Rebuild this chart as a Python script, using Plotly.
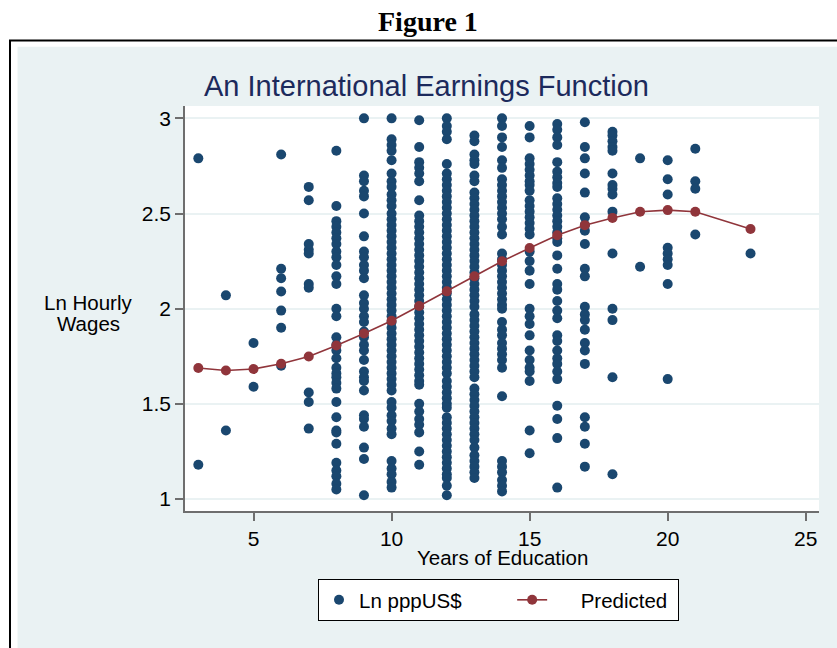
import plotly.graph_objects as go

# ---------------- data ----------------
ed3 = [2.79, 1.18]
ed4 = [2.07, 1.36]
ed5 = [1.82, 1.59]
ed6 = [2.81, 2.21, 2.16, 2.09, 1.99, 1.90, 1.70]
ed7 = [2.64, 2.57, 2.34, 2.31, 2.29, 2.13, 2.11, 1.56, 1.51, 1.37]
ed8 = [2.83, 2.54, 2.46, 2.43, 2.40, 2.37, 2.34, 2.30, 2.27, 2.23, 2.17, 2.13, 2.00, 1.96,
       1.85, 1.81, 1.78, 1.74, 1.69, 1.66, 1.64, 1.61, 1.58, 1.51, 1.43, 1.36, 1.35, 1.29,
       1.19, 1.15, 1.12, 1.08, 1.05]
ed9 = [3.00, 2.70, 2.67, 2.62, 2.59, 2.50, 2.38, 2.30, 2.27, 2.23, 2.20, 2.16, 2.07, 2.03,
       2.00, 1.96, 1.93, 1.88, 1.85, 1.81, 1.78, 1.73, 1.67, 1.64, 1.62, 1.57, 1.44, 1.42,
       1.38, 1.27, 1.21, 1.02]
ed10 = [3.00, 2.89, 2.86, 2.83, 2.78, 2.71, 2.67, 2.64, 2.60, 2.57, 2.54,
        2.50, 2.47, 2.44, 2.41, 2.38, 2.35, 2.32, 2.29, 2.26, 2.23, 2.20, 2.17, 2.14, 2.11,
        2.08, 2.05, 2.02, 1.99, 1.96, 1.93, 1.90, 1.87, 1.84, 1.81, 1.78, 1.75, 1.72, 1.69,
        1.66, 1.63, 1.60, 1.57, 1.51, 1.48, 1.44, 1.41, 1.37, 1.34, 1.20, 1.16, 1.13, 1.09, 1.06]
ed11 = [2.99, 2.85, 2.77, 2.74, 2.71, 2.67, 2.57,
        2.49, 2.46, 2.43, 2.40, 2.37, 2.34, 2.31, 2.28, 2.25, 2.22, 2.19, 2.16, 2.13, 2.10,
        2.07, 2.04, 2.01, 1.98, 1.95, 1.92, 1.89, 1.86, 1.83, 1.80, 1.77, 1.74, 1.71, 1.68,
        1.65, 1.62, 1.60, 1.50, 1.46, 1.42, 1.39, 1.35, 1.25, 1.18]
ed12 = [3.00, 2.96, 2.93, 2.89, 2.76,
        2.71, 2.68, 2.65, 2.62, 2.59, 2.56, 2.53, 2.50, 2.47, 2.44, 2.41, 2.38, 2.35, 2.32,
        2.29, 2.26, 2.23, 2.20, 2.17, 2.14, 2.11, 2.08, 2.05, 2.02, 1.99, 1.96, 1.93, 1.90,
        1.87, 1.84, 1.81, 1.78, 1.75, 1.72, 1.69, 1.66, 1.62, 1.59, 1.56, 1.53, 1.50, 1.48,
        1.43, 1.40, 1.37, 1.34, 1.31, 1.28, 1.25, 1.22, 1.19, 1.16, 1.13, 1.11, 1.07, 1.02]
ed13 = [2.91, 2.88, 2.81, 2.78, 2.76, 2.70, 2.67,
        2.61, 2.58, 2.55, 2.52, 2.49, 2.46, 2.43, 2.40, 2.37, 2.34, 2.31, 2.28, 2.25, 2.22,
        2.19, 2.16, 2.13, 2.10, 2.07, 2.04, 2.01, 1.97, 1.94, 1.91, 1.88, 1.85, 1.82, 1.79,
        1.76, 1.73, 1.70, 1.67, 1.64, 1.58, 1.55, 1.52, 1.49, 1.46, 1.43, 1.40, 1.37, 1.34,
        1.31, 1.27, 1.23, 1.20, 1.17, 1.14, 1.11]
ed14 = [3.00, 2.96, 2.90, 2.85, 2.78, 2.74, 2.68, 2.65, 2.62, 2.59, 2.56, 2.53, 2.50, 2.47,
        2.43, 2.39, 2.29, 2.26, 2.23, 2.20, 2.17, 2.14, 2.11, 2.08, 2.05, 2.02, 2.00, 1.93,
        1.89, 1.86, 1.82, 1.79, 1.76, 1.73, 1.69, 1.54, 1.20, 1.17, 1.14, 1.10, 1.07, 1.04]
ed15 = [2.96, 2.90, 2.79, 2.76, 2.73, 2.70, 2.67, 2.65, 2.62, 2.57, 2.54, 2.51, 2.48, 2.45,
        2.42, 2.39, 2.30, 2.25, 2.20, 2.13, 2.00, 1.96, 1.92, 1.86, 1.78, 1.73, 1.69, 1.67,
        1.62, 1.36, 1.24]
ed16 = [2.97, 2.94, 2.90, 2.86, 2.77, 2.72, 2.69, 2.66, 2.64, 2.58, 2.55, 2.52, 2.49, 2.46,
        2.43, 2.40, 2.37, 2.35, 2.28, 2.21, 2.13, 2.10, 2.04, 1.99, 1.95, 1.86, 1.83, 1.78,
        1.74, 1.71, 1.67, 1.63, 1.49, 1.42, 1.32, 1.06]
ed17 = [2.98, 2.85, 2.79, 2.71, 2.61, 2.48, 2.44, 2.41, 2.34, 2.21, 2.17, 2.01, 1.97, 1.94,
        1.89, 1.82, 1.78, 1.71, 1.43, 1.38, 1.29, 1.17]
ed18 = [2.93, 2.91, 2.88, 2.85, 2.83, 2.71, 2.65, 2.63, 2.60, 2.51, 2.29, 2.00, 1.94, 1.64, 1.13]
ed19 = [2.79, 2.22]
ed20 = [2.78, 2.68, 2.60, 2.32, 2.29, 2.26, 2.23, 2.13, 1.63]
ed21 = [2.84, 2.67, 2.63, 2.39]
ed23 = [2.29]

observed = {3: ed3, 4: ed4, 5: ed5, 6: ed6, 7: ed7, 8: ed8, 9: ed9, 10: ed10, 11: ed11,
            12: ed12, 13: ed13, 14: ed14, 15: ed15, 16: ed16, 17: ed17, 18: ed18,
            19: ed19, 20: ed20, 21: ed21, 23: ed23}

pred_years = [3, 4, 5, 6, 7, 8, 9, 10, 11, 12, 13, 14, 15, 16, 17, 18, 19, 20, 21, 23]
pred_wage = [1.688, 1.675, 1.683, 1.711, 1.749, 1.807, 1.870, 1.937, 2.014, 2.091, 2.170,
             2.249, 2.319, 2.386, 2.439, 2.477, 2.509, 2.518, 2.509, 2.419]

x_ticks = [5, 10, 15, 20, 25]
y_ticks = [1, 1.5, 2, 2.5, 3]
y_ticktext = ["1", "1.5", "2", "2.5", "3"]

# ---------------- build figure ----------------
xs, ys = [], []
for yr, vals in observed.items():
    xs.extend([yr] * len(vals))
    ys.extend(vals)

NAVY = "#1a476f"
MAROON = "#90353b"
BG = "#eaf2f3"
FONT = "Liberation Sans, Arial, sans-serif"
NB = "\u00a0"

fig = go.Figure()
fig.add_trace(go.Scatter(x=xs, y=ys, mode="markers", name="Ln pppUS$" + NB * 8,
                         marker=dict(color=NAVY, size=10, line=dict(width=0))))
fig.add_trace(go.Scatter(x=pred_years, y=pred_wage, mode="lines+markers",
                         name=NB * 5 + "Predicted" + NB * 1,
                         line=dict(color=MAROON, width=1.6),
                         marker=dict(color=MAROON, size=10)))

W, H = 837, 648
L, R, T, B = 185, 18, 106, 137
PW, PH = W - L - R, H - T - B


def px(x):
    return (x - L) / PW


def py(y):
    return (H - B - y) / PH


shapes = [
    dict(type="rect", xref="paper", yref="paper", x0=px(-5), x1=px(17.5), y0=py(660), y1=py(-5),
         fillcolor="white", line=dict(width=0), layer="above"),
    dict(type="rect", xref="paper", yref="paper", x0=px(-5), x1=px(845), y0=py(46.7), y1=py(-5),
         fillcolor="white", line=dict(width=0), layer="above"),
    dict(type="rect", xref="paper", yref="paper", x0=px(10), x1=px(860), y0=py(680), y1=py(40.5),
         fillcolor="rgba(0,0,0,0)", line=dict(color="black", width=2), layer="above"),
]

annotations = [
    dict(text="<b>Figure 1</b>", x=px(428), y=py(22), xref="paper", yref="paper",
         xanchor="center", yanchor="middle", showarrow=False,
         font=dict(family="Liberation Serif, Times New Roman, serif", size=28, color="black")),
    dict(text="An International Earnings Function", x=px(426), y=py(86), xref="paper",
         yref="paper", xanchor="center", yanchor="middle", showarrow=False,
         font=dict(family=FONT, size=29, color="#1c2a5c")),
    dict(text="Ln Hourly", x=px(88), y=py(302), xref="paper", yref="paper",
         xanchor="center", yanchor="middle", showarrow=False,
         font=dict(family=FONT, size=20.5, color="black")),
    dict(text="Wages", x=px(88), y=py(323), xref="paper", yref="paper",
         xanchor="center", yanchor="middle", showarrow=False,
         font=dict(family=FONT, size=20.5, color="black")),
    dict(text="Years of Education", x=px(502), y=py(557), xref="paper", yref="paper",
         xanchor="center", yanchor="middle", showarrow=False,
         font=dict(family=FONT, size=20.5, color="black")),
]

fig.update_layout(
    width=W, height=H,
    margin=dict(l=L, r=R, t=T, b=B, pad=0),
    paper_bgcolor=BG, plot_bgcolor="white",
    font=dict(family=FONT, size=20, color="black"),
    shapes=shapes, annotations=annotations,
    showlegend=True,
    legend=dict(orientation="h", x=px(318), xanchor="left", y=py(579), yanchor="top",
                bgcolor="white", bordercolor="black", borderwidth=1,
                font=dict(family=FONT, size=20.5, color="black")),
    xaxis=dict(range=[2.518, 25.48], tickvals=x_ticks, ticks="outside", ticklen=8,
               tickcolor="#6e6e6e", tickwidth=1.5, showline=True, linecolor="#6e6e6e",
               linewidth=1.5, showgrid=False, zeroline=False,
               tickfont=dict(family=FONT, size=21, color="black")),
    yaxis=dict(range=[0.937, 3.065], tickvals=y_ticks, ticktext=y_ticktext, ticks="outside",
               ticklen=8, tickcolor="#6e6e6e", tickwidth=1.5, showline=True,
               linecolor="#6e6e6e", linewidth=1.5, showgrid=True, gridcolor=BG, gridwidth=1.5,
               zeroline=False, tickfont=dict(family=FONT, size=21, color="black")),
)

fig.write_html("out.html", config={"displayModeBar": False},
               post_script="document.body.style.margin='0';document.body.style.overflow='hidden';")
